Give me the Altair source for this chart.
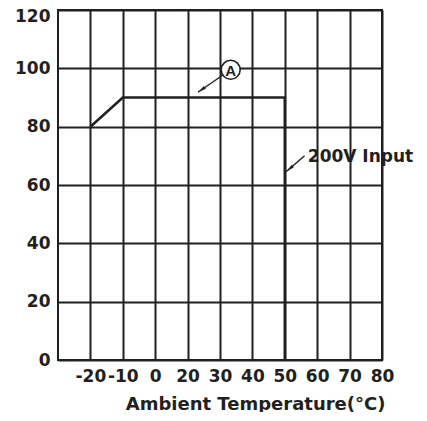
import altair as alt
import pandas as pd

# ---- data ----
curve_temp = [-20, -10, 50, 50]
curve_load = [80, 90, 90, 0]

x_ticks = [-20, -10, 0, 20, 30, 40, 50, 60, 70, 80]
y_ticks = [0, 20, 40, 60, 80, 100, 120]

# piecewise x axis (the original skips 10 between 0 and 20)
x_domain = [-30, 0, 20, 80]
x_slots = [0, 3, 4, 10]          # grid column index of each domain break

# annotations
label_a_temp, label_a_load = [33.3], [99.5]
arrow_a_temp = [30.9, 23.2]
arrow_a_load = [97.7, 91.8]
input_text = ["200V Input"]
input_text_temp, input_text_load = [57.1], [67.8]
arrow_in_temp = [56.1, 50.5]
arrow_in_load = [70.0, 64.6]

W, H = 324, 350
INK = "#231f20"
FONT = "DejaVu Sans"

xs = alt.Scale(domain=x_domain, range=[s * W / 10 for s in x_slots], nice=False, zero=False)
ys = alt.Scale(domain=[0, 120], nice=False, zero=False)

curve = pd.DataFrame({"t": curve_temp, "p": curve_load, "o": range(len(curve_temp))})

axis_common = dict(
    grid=True, gridColor=INK, gridWidth=2, gridOpacity=1, tickCount=40,
    domain=False, ticks=False, labelOverlap=False, labelFlush=False,
    labelBound=False, labelFont=FONT, labelFontWeight="bold", labelFontSize=17,
    labelColor=INK, labelPadding=8,
)

base_x = alt.X("t:Q", scale=xs,
               axis=alt.Axis(values=x_ticks, title="Ambient Temperature(°C)",
                             labelExpr="'' + datum.value",
                             titleX=327, titleY=49, titleAlign="right",
                             titleBaseline="alphabetic", titleFontSize=18,
                             titleFont=FONT, titleFontWeight="bold", titleColor=INK,
                             **axis_common))
base_y = alt.Y("p:Q", scale=ys,
               axis=alt.Axis(values=y_ticks, title=None,
                             labelOffset={"condition": {"test": "datum.value == 120", "value": 6},
                                          "value": 0},
                             **axis_common))

line = alt.Chart(curve).mark_line(color=INK, strokeWidth=2.6).encode(
    x=base_x, y=base_y, order="o:Q")

# arrow A
arr_a = pd.DataFrame({"t": arrow_a_temp, "p": arrow_a_load, "o": [0, 1]})
shaft_a = alt.Chart(arr_a).mark_line(color=INK, strokeWidth=1.4).encode(
    x=alt.X("t:Q", scale=xs), y=alt.Y("p:Q", scale=ys), order="o:Q")
head_path = "M0,0L0.45,2.2L-0.45,2.2Z"
head_a = alt.Chart(arr_a.iloc[[1]]).mark_point(
    shape=head_path, filled=True, color=INK, size=60, angle=235, opacity=1).encode(
    x=alt.X("t:Q", scale=xs), y=alt.Y("p:Q", scale=ys))

circ_df = pd.DataFrame({"t": label_a_temp, "p": label_a_load, "txt": ["A"]})
circle = alt.Chart(circ_df).mark_point(
    shape="circle", size=360, filled=True, fill="white", stroke=INK,
    strokeWidth=1.6, opacity=1).encode(
    x=alt.X("t:Q", scale=xs), y=alt.Y("p:Q", scale=ys))
circle_txt = alt.Chart(circ_df).mark_text(
    font="Liberation Sans", fontWeight="bold", fontSize=15, color=INK,
    baseline="middle", align="center", dy=1).encode(
    x=alt.X("t:Q", scale=xs), y=alt.Y("p:Q", scale=ys), text="txt:N")

# arrow for 200V Input
arr_in = pd.DataFrame({"t": arrow_in_temp, "p": arrow_in_load, "o": [0, 1]})
shaft_in = alt.Chart(arr_in).mark_line(color=INK, strokeWidth=1.4).encode(
    x=alt.X("t:Q", scale=xs), y=alt.Y("p:Q", scale=ys), order="o:Q")
head_in = alt.Chart(arr_in.iloc[[1]]).mark_point(
    shape=head_path, filled=True, color=INK, size=60, angle=229, opacity=1).encode(
    x=alt.X("t:Q", scale=xs), y=alt.Y("p:Q", scale=ys))

in_df = pd.DataFrame({"t": input_text_temp, "p": input_text_load, "txt": input_text})
in_txt = alt.Chart(in_df).mark_text(
    font=FONT, fontWeight="bold", fontSize=17, color=INK,
    align="left", baseline="alphabetic").encode(
    x=alt.X("t:Q", scale=xs), y=alt.Y("p:Q", scale=ys), text="txt:N")

chart = alt.layer(line, shaft_a, head_a, circle, circle_txt, shaft_in, head_in, in_txt).properties(
    width=W, height=H,
    autosize=alt.AutoSizeParams(type="none"),
    padding={"left": 50, "top": 2, "right": 35, "bottom": 52},
).configure_view(
    stroke=INK, strokeWidth=2
)

chart.save("out.html", embed_options={"renderer": "svg", "actions": False})
